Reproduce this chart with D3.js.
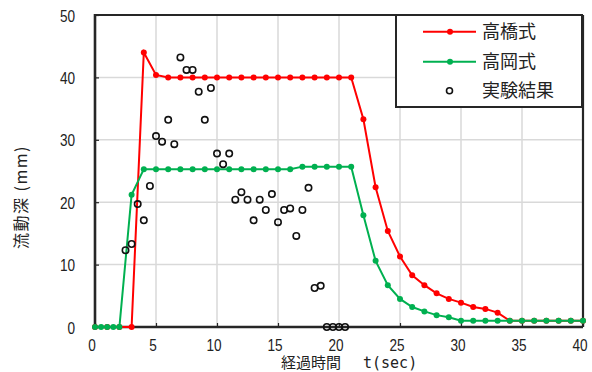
<!DOCTYPE html>
<html><head><meta charset="utf-8">
<script src="https://cdn.jsdelivr.net/npm/d3@7"></script>
<style>body{margin:0;background:#fff}svg{display:block}</style>
</head><body>
<script>
// ---- data ----
const xTicks = [0,5,10,15,20,25,30,35,40];
const yTicks = [0,10,20,30,40,50];
const takahashiT = [0,1,2,3,4,5,6,7,8,9,10,11,12,13,14,15,16,17,18,19,20,21,22,23,24,25,26,27,28,29,30,31,32,33,34,35,36,37,38,39,40];
const takahashiV = [0,0,0,0,44,40.4,40,40,40,40,40,40,40,40,40,40,40,40,40,40,40,40,33.3,22.4,15.4,11.3,8.3,6.7,5.4,4.5,3.9,3.2,2.9,2.3,1,1,1,1,1,1,1];
const takaokaT = [0,0.5,1,1.5,2,3,4,5,6,7,8,9,10,11,12,13,14,15,16,17,18,19,20,21,22,23,24,25,26,27,28,29,30,31,32,33,34,35,36,37,38,39,40];
const takaokaV = [0,0,0,0,0,21.2,25.3,25.3,25.3,25.3,25.3,25.3,25.3,25.3,25.3,25.3,25.3,25.3,25.3,25.7,25.7,25.7,25.7,25.7,17.9,10.6,6.7,4.5,3.2,2.5,1.9,1.55,1,1,1,1,1,1,1,1,1,1,1];
const expT = [2.5,3,3.5,4,4.5,5,5.5,6,6.5,7,7.5,8,8.5,9,9.5,10,10.5,11,11.5,12,12.5,13,13.5,14,14.5,15,15.5,16,16.5,17,17.5,18,18.5,19,19.5,20,20.5];
const expV = [12.3,13.3,19.7,17.1,22.6,30.6,29.7,33.2,29.3,43.2,41.2,41.2,37.7,33.2,38.3,27.8,26.1,27.8,20.4,21.6,20.4,17.1,20.4,18.75,21.3,16.8,18.75,19.0,14.6,18.75,22.3,6.25,6.6,0,0,0,0];
const seriesNames = ["高橋式","高岡式","実験結果"];
const xLabel = "経過時間";
const xLabelUnit = "t(sec)";
const yLabel = "流動深 (mm)";

// ---- drawing ----
const W = 592, H = 372;
const L = 95, R = 583, T = 15, B = 327;
const x = d3.scaleLinear().domain([0,40]).range([L,R]);
const y = d3.scaleLinear().domain([0,50]).range([B,T]);
const RED = "#ff0000", GREEN = "#00b050", AX = "#262626";
const numFont = "'Liberation Sans',Arial,sans-serif";
const jpFont = "'Noto Sans CJK JP','Noto Sans CJK SC',sans-serif";

const svg = d3.select("body").append("svg").attr("width",W).attr("height",H);

// gridlines
svg.append("g").selectAll("line").data(xTicks.filter(d=>d>0&&d<40)).join("line")
  .attr("x1",d=>x(d)).attr("x2",d=>x(d)).attr("y1",T).attr("y2",B)
  .attr("stroke","#d9d9d9").attr("stroke-width",1.5);
svg.append("g").selectAll("line").data(yTicks.filter(d=>d>0&&d<50)).join("line")
  .attr("y1",d=>y(d)).attr("y2",d=>y(d)).attr("x1",L).attr("x2",R)
  .attr("stroke","#d9d9d9").attr("stroke-width",1.5);

// axes with inner ticks
const xAxis = svg.append("g").attr("transform",`translate(0,${B})`)
  .call(d3.axisTop(x).tickValues(xTicks).tickSize(4).tickFormat(""));
const yAxis = svg.append("g").attr("transform",`translate(${L},0)`)
  .call(d3.axisRight(y).tickValues(yTicks).tickSize(4).tickFormat(""));
[xAxis,yAxis].forEach(g=>{g.select(".domain").remove();g.selectAll("line").attr("stroke",AX).attr("stroke-width",1.2);});

// tick labels (condensed)
svg.append("g").selectAll("text").data(xTicks).join("text")
  .attr("transform",d=>`translate(${x(d)-3},351) scale(0.8,1)`).attr("text-anchor","middle")
  .attr("font-family",numFont).attr("font-size",17).attr("fill","#222").text(d=>d);
svg.append("g").selectAll("text").data(yTicks).join("text")
  .attr("transform",d=>`translate(75,${y(d)+6.5}) scale(0.8,1)`).attr("text-anchor","end")
  .attr("font-family",numFont).attr("font-size",17).attr("fill","#222").text(d=>d);

// frame
svg.append("line").attr("x1",L).attr("x2",R).attr("y1",T).attr("y2",T).attr("stroke",AX).attr("stroke-width",2.2);
svg.append("line").attr("x1",R).attr("x2",R).attr("y1",T).attr("y2",B).attr("stroke",AX).attr("stroke-width",2.2);
svg.append("line").attr("x1",L).attr("x2",R).attr("y1",B).attr("y2",B).attr("stroke",AX).attr("stroke-width",2.6);
svg.append("line").attr("x1",L).attr("x2",L).attr("y1",T-1).attr("y2",B+1).attr("stroke",AX).attr("stroke-width",2.6);

const line = d3.line().x(d=>x(d[0])).y(d=>y(d[1]));
function drawSeries(ts, vs, color){
  const pts = ts.map((t,i)=>[t,vs[i]]);
  svg.append("path").datum(pts).attr("d",line).attr("fill","none").attr("stroke",color).attr("stroke-width",2);
  svg.append("g").selectAll("circle").data(pts).join("circle")
    .attr("cx",d=>x(d[0])).attr("cy",d=>y(d[1])).attr("r",3).attr("fill",color);
}
drawSeries(takahashiT, takahashiV, RED);
drawSeries(takaokaT, takaokaV, GREEN);

// experimental
svg.append("g").selectAll("circle").data(expT.map((t,i)=>[t,expV[i]])).join("circle")
  .attr("cx",d=>x(d[0])).attr("cy",d=>y(d[1])).attr("r",3.2)
  .attr("fill","none").attr("stroke","#111").attr("stroke-width",1.6);

// legend
const lg = svg.append("g");
lg.append("rect").attr("x",396).attr("y",15).attr("width",186).attr("height",92)
  .attr("fill","#fff").attr("stroke",AX).attr("stroke-width",2);
const legendY = [31.7,61.7,90.7];
[[RED,0],[GREEN,1]].forEach(([c,i])=>{
  lg.append("line").attr("x1",423).attr("x2",476).attr("y1",legendY[i]).attr("y2",legendY[i]).attr("stroke",c).attr("stroke-width",2);
  lg.append("circle").attr("cx",450).attr("cy",legendY[i]).attr("r",3).attr("fill",c);
});
lg.append("circle").attr("cx",449.5).attr("cy",legendY[2]).attr("r",3).attr("fill","none").attr("stroke","#111").attr("stroke-width",1.6);
lg.selectAll("text.lt").data(seriesNames).join("text").attr("class","lt")
  .attr("x",482).attr("y",(d,i)=>legendY[i]+6.5).attr("font-family",jpFont).attr("font-size",18)
  .attr("fill","#222").text(d=>d);

// axis titles
const xt = svg.append("text").attr("x",281).attr("y",368).attr("font-family",jpFont).attr("font-size",15).attr("fill","#222");
xt.append("tspan").text(xLabel);
xt.append("tspan").attr("x",363).attr("font-family","'DejaVu Sans Mono',monospace").attr("font-size",15).text(xLabelUnit);
svg.append("text").attr("transform","translate(27,197) rotate(-90)").attr("text-anchor","middle")
  .attr("font-family",jpFont).attr("font-size",16).attr("letter-spacing",1.5).attr("fill","#222").text(yLabel);
</script>
</body></html>
